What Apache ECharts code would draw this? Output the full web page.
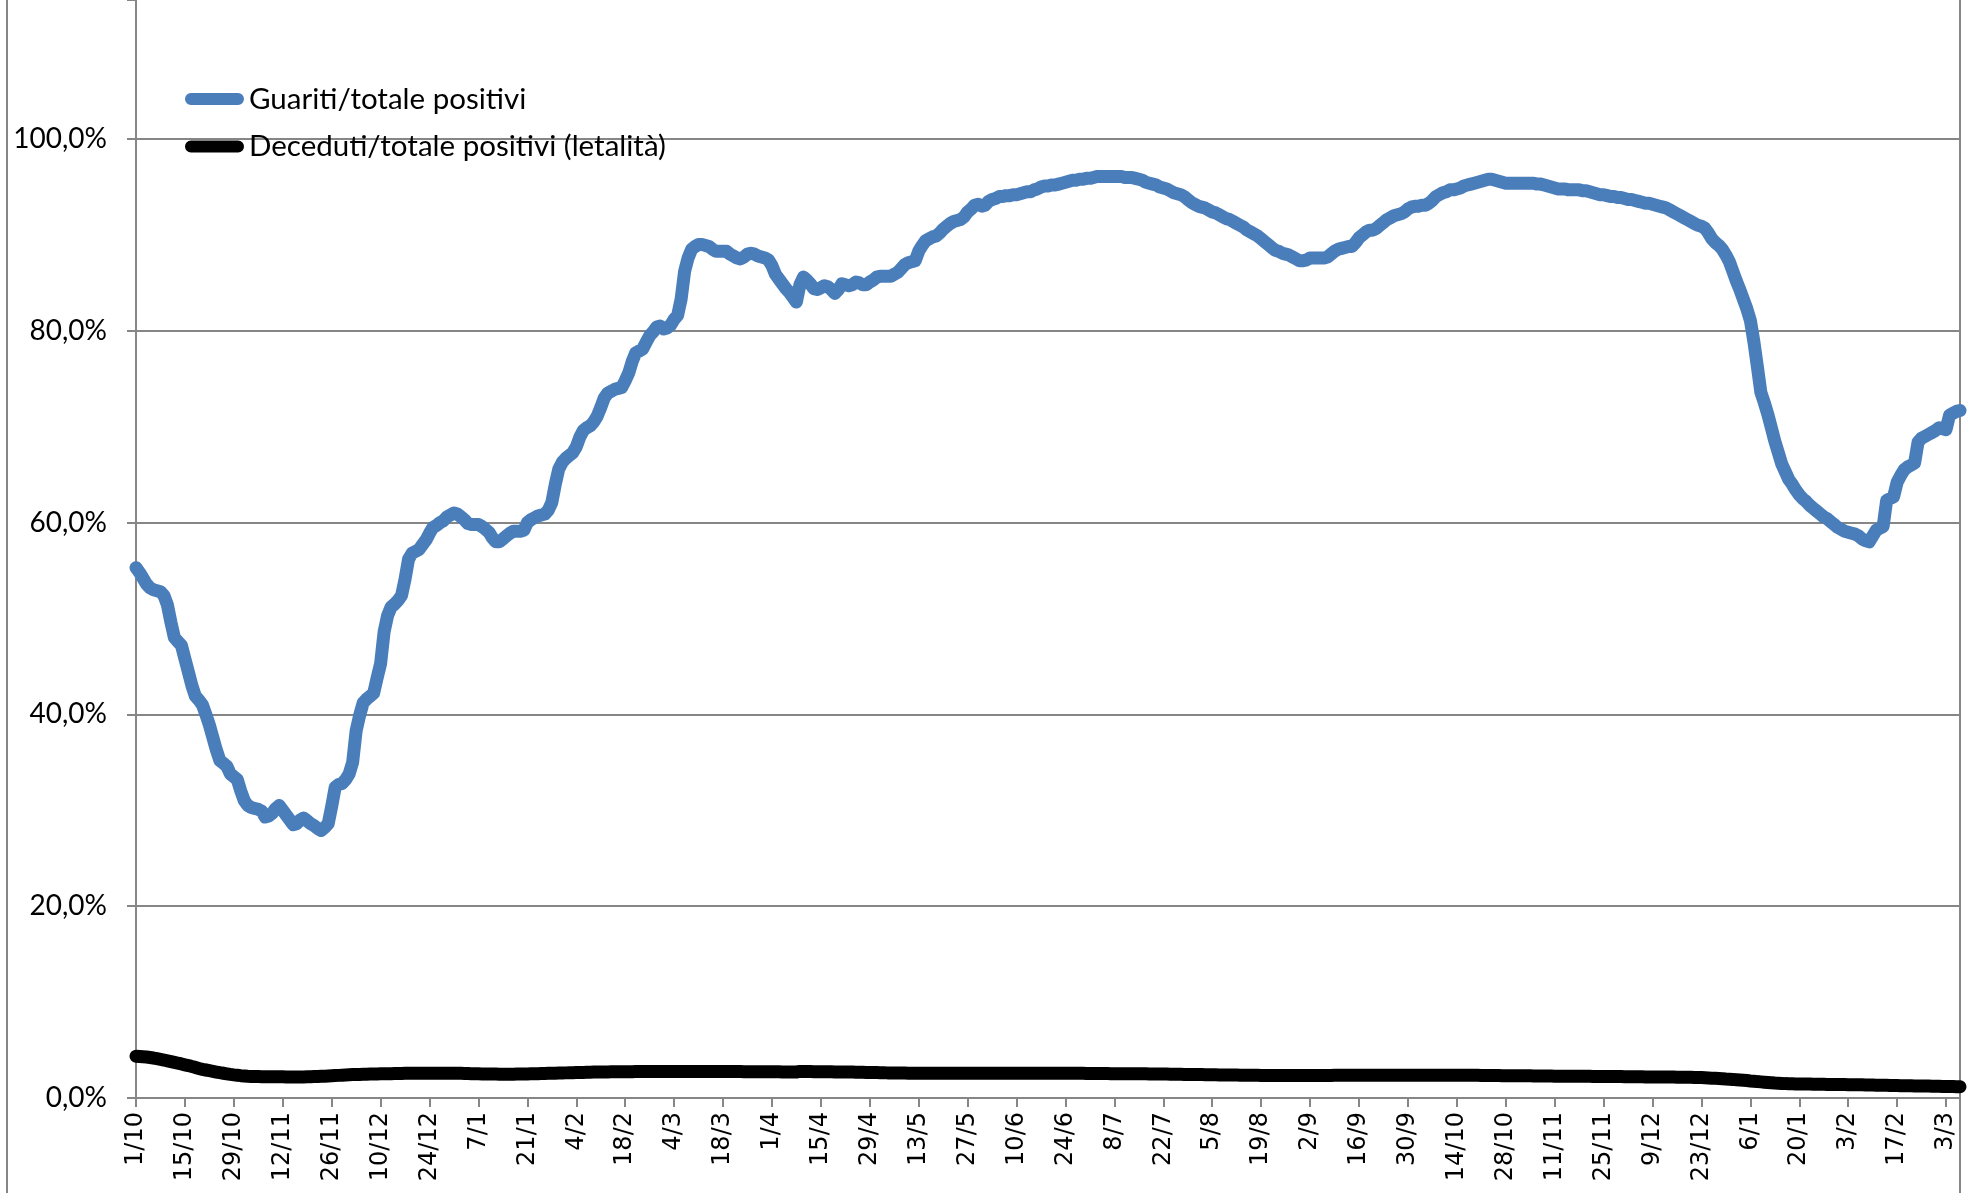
<!DOCTYPE html>
<html>
<head>
<meta charset="utf-8">
<script src="https://cdn.jsdelivr.net/npm/echarts@6/dist/echarts.min.js"></script>
<style>
html,body{margin:0;padding:0;background:#fff;}
#chart{width:1977px;height:1193px;}
</style>
</head>
<body>
<div id="chart"></div>
<script>
// Daily categories 1/10/2020 .. 7/3/2022
const startDate = [2020, 9, 1]; // year, month index, day
const dayCount = 523;
const categories = [];
for (let i = 0; i < dayCount; i++) {
  const d = new Date(Date.UTC(startDate[0], startDate[1], startDate[2] + i));
  categories.push(d.getUTCDate() + '/' + (d.getUTCMonth() + 1));
}

const seriesNames = ['Guariti/totale positivi', 'Deceduti/totale positivi (letalità)'];

// Guariti / totale positivi (%)
const guariti = [
55.3,54.8,54.2,53.6,53.2,53.0,52.9,52.8,52.4,51.4,
49.6,48.0,47.6,47.2,45.8,44.4,43.0,41.9,41.5,41.0,
40.0,38.9,37.6,36.3,35.2,34.9,34.6,33.8,33.5,33.2,
32.0,31.0,30.5,30.3,30.2,30.1,29.9,29.3,29.4,29.7,
30.2,30.5,30.0,29.5,29.0,28.5,28.6,29.0,29.2,28.9,
28.6,28.4,28.1,27.9,28.2,28.6,30.4,32.4,32.7,32.8,
33.2,33.8,35.0,38.3,39.9,41.2,41.6,41.9,42.2,43.8,
45.3,48.6,50.3,51.2,51.5,51.9,52.4,54.1,56.2,56.8,
57.0,57.2,57.7,58.2,58.9,59.5,59.7,60.0,60.2,60.6,
60.8,61.0,60.9,60.6,60.3,59.9,59.8,59.8,59.8,59.6,
59.3,59.0,58.4,58.0,58.0,58.3,58.6,58.9,59.1,59.1,
59.1,59.2,60.0,60.3,60.5,60.7,60.8,60.9,61.3,62.1,
64.0,65.6,66.3,66.7,67.0,67.3,67.9,68.9,69.6,69.9,
70.1,70.5,71.1,72.0,73.0,73.5,73.7,73.9,74.0,74.1,
74.8,75.6,76.8,77.7,77.9,78.1,78.8,79.5,79.9,80.4,
80.5,80.2,80.3,80.6,81.2,81.6,83.3,86.2,87.6,88.5,
88.8,89.0,89.0,88.9,88.8,88.5,88.3,88.3,88.3,88.3,
88.0,87.8,87.6,87.5,87.7,88.0,88.1,88.0,87.8,87.7,
87.6,87.4,86.8,85.9,85.4,84.9,84.4,84.0,83.5,83.0,
84.8,85.6,85.3,84.9,84.4,84.3,84.5,84.7,84.6,84.3,
83.9,84.3,84.9,84.8,84.7,84.8,85.1,85.0,84.8,84.8,
85.1,85.3,85.6,85.7,85.7,85.7,85.7,85.9,86.1,86.5,
86.9,87.1,87.2,87.3,88.3,88.9,89.4,89.6,89.8,89.9,
90.2,90.6,90.9,91.2,91.4,91.5,91.6,91.9,92.4,92.7,
93.1,93.2,93.0,93.1,93.5,93.7,93.8,94.0,94.0,94.1,
94.1,94.2,94.2,94.3,94.4,94.5,94.5,94.7,94.8,95.0,
95.1,95.1,95.2,95.2,95.3,95.4,95.5,95.6,95.7,95.7,
95.8,95.8,95.9,95.9,96.0,96.1,96.1,96.1,96.1,96.1,
96.1,96.1,96.1,96.0,96.0,96.0,95.9,95.8,95.7,95.5,
95.4,95.3,95.2,95.0,94.9,94.8,94.6,94.4,94.3,94.2,
94.0,93.7,93.4,93.2,93.0,92.9,92.8,92.6,92.4,92.3,
92.1,91.9,91.7,91.6,91.4,91.2,91.0,90.8,90.5,90.3,
90.1,89.9,89.6,89.3,89.0,88.7,88.4,88.3,88.1,88.0,
87.9,87.7,87.5,87.3,87.3,87.4,87.6,87.6,87.6,87.6,
87.6,87.7,88.0,88.3,88.5,88.6,88.7,88.8,88.8,89.2,
89.7,90.0,90.3,90.5,90.5,90.7,91.0,91.3,91.6,91.8,
92.0,92.1,92.2,92.4,92.7,92.9,93.0,93.0,93.1,93.1,
93.3,93.6,94.0,94.2,94.4,94.5,94.7,94.7,94.8,94.9,
95.1,95.2,95.3,95.4,95.5,95.6,95.7,95.8,95.8,95.7,
95.6,95.5,95.4,95.4,95.4,95.4,95.4,95.4,95.4,95.4,
95.4,95.3,95.3,95.2,95.1,95.0,94.9,94.8,94.8,94.8,
94.7,94.7,94.7,94.7,94.6,94.6,94.5,94.4,94.3,94.2,
94.2,94.1,94.0,94.0,93.9,93.9,93.8,93.7,93.7,93.6,
93.5,93.4,93.3,93.3,93.2,93.1,93.0,92.9,92.8,92.6,
92.4,92.2,92.0,91.8,91.6,91.4,91.2,91.0,90.9,90.7,
90.2,89.6,89.2,88.9,88.5,87.9,87.2,86.2,85.2,84.3,
83.3,82.3,81.1,78.9,76.3,73.6,72.5,71.3,69.9,68.5,
67.3,66.1,65.3,64.5,64.0,63.4,62.9,62.5,62.2,61.8,
61.5,61.2,60.9,60.6,60.4,60.1,59.8,59.5,59.3,59.1,
59.0,58.9,58.8,58.6,58.3,58.1,58.0,58.6,59.2,59.4,
59.6,62.3,62.5,62.7,64.2,64.9,65.5,65.8,66.0,66.2,
68.4,68.8,69.0,69.2,69.4,69.6,69.9,69.8,69.7,71.2,
71.4,71.6,71.7
];

// Deceduti / totale positivi (%)
const deceduti = [
4.36,4.33,4.30,4.27,4.22,4.17,4.10,4.03,3.96,3.88,
3.80,3.72,3.63,3.55,3.46,3.38,3.28,3.19,3.08,2.99,
2.92,2.85,2.78,2.71,2.64,2.58,2.52,2.46,2.41,2.37,
2.33,2.30,2.27,2.25,2.24,2.23,2.22,2.22,2.21,2.21,
2.21,2.21,2.21,2.20,2.20,2.20,2.20,2.20,2.20,2.21,
2.22,2.23,2.24,2.26,2.28,2.30,2.32,2.34,2.36,2.38,
2.40,2.42,2.44,2.45,2.46,2.47,2.48,2.49,2.50,2.51,
2.52,2.53,2.54,2.54,2.55,2.56,2.56,2.57,2.57,2.58,
2.58,2.58,2.59,2.59,2.59,2.59,2.59,2.59,2.59,2.59,
2.59,2.58,2.58,2.57,2.56,2.55,2.54,2.53,2.52,2.51,
2.50,2.50,2.49,2.49,2.48,2.48,2.48,2.48,2.48,2.49,
2.49,2.50,2.51,2.52,2.53,2.54,2.55,2.56,2.57,2.58,
2.59,2.60,2.61,2.62,2.63,2.64,2.65,2.66,2.67,2.68,
2.69,2.70,2.70,2.71,2.72,2.72,2.73,2.73,2.74,2.74,
2.75,2.75,2.75,2.76,2.76,2.76,2.77,2.77,2.77,2.77,
2.77,2.77,2.77,2.77,2.77,2.77,2.77,2.77,2.77,2.77,
2.77,2.77,2.77,2.77,2.77,2.76,2.76,2.76,2.76,2.76,
2.76,2.76,2.76,2.76,2.75,2.75,2.75,2.75,2.75,2.74,
2.74,2.74,2.73,2.73,2.73,2.72,2.72,2.72,2.71,2.71,
2.77,2.77,2.76,2.76,2.75,2.75,2.74,2.74,2.73,2.73,
2.72,2.72,2.71,2.71,2.70,2.70,2.69,2.68,2.68,2.67,
2.66,2.65,2.65,2.64,2.63,2.62,2.62,2.61,2.60,2.60,
2.60,2.59,2.59,2.59,2.59,2.59,2.59,2.59,2.59,2.59,
2.59,2.59,2.59,2.59,2.59,2.59,2.59,2.59,2.59,2.59,
2.59,2.59,2.59,2.59,2.59,2.59,2.59,2.59,2.59,2.59,
2.59,2.59,2.59,2.59,2.59,2.59,2.59,2.59,2.59,2.59,
2.59,2.59,2.59,2.58,2.58,2.58,2.58,2.58,2.57,2.57,
2.57,2.57,2.56,2.56,2.56,2.56,2.55,2.55,2.55,2.54,
2.54,2.54,2.54,2.53,2.53,2.53,2.53,2.52,2.52,2.52,
2.51,2.51,2.50,2.50,2.49,2.49,2.48,2.48,2.47,2.47,
2.46,2.46,2.45,2.45,2.44,2.44,2.43,2.43,2.42,2.42,
2.41,2.41,2.40,2.40,2.39,2.39,2.38,2.38,2.37,2.37,
2.36,2.36,2.35,2.35,2.35,2.34,2.34,2.34,2.34,2.34,
2.34,2.34,2.34,2.34,2.34,2.34,2.35,2.35,2.35,2.35,
2.35,2.35,2.35,2.36,2.36,2.36,2.36,2.36,2.36,2.37,
2.37,2.37,2.37,2.37,2.37,2.37,2.38,2.38,2.38,2.38,
2.38,2.38,2.38,2.38,2.38,2.38,2.38,2.38,2.38,2.38,
2.38,2.38,2.38,2.38,2.38,2.38,2.38,2.38,2.37,2.37,
2.37,2.37,2.36,2.36,2.36,2.35,2.35,2.35,2.34,2.34,
2.34,2.33,2.33,2.33,2.32,2.32,2.32,2.31,2.31,2.31,
2.30,2.30,2.30,2.29,2.29,2.29,2.28,2.28,2.28,2.28,
2.27,2.27,2.27,2.27,2.26,2.26,2.26,2.25,2.25,2.25,
2.24,2.24,2.24,2.23,2.23,2.23,2.22,2.22,2.22,2.21,
2.21,2.21,2.20,2.20,2.20,2.19,2.19,2.19,2.18,2.18,
2.18,2.17,2.17,2.17,2.16,2.16,2.15,2.14,2.13,2.11,
2.09,2.07,2.05,2.03,2.01,1.98,1.96,1.94,1.91,1.88,
1.85,1.82,1.78,1.75,1.71,1.68,1.65,1.62,1.59,1.56,
1.54,1.52,1.50,1.49,1.48,1.47,1.46,1.46,1.45,1.45,
1.44,1.44,1.43,1.43,1.42,1.42,1.41,1.41,1.40,1.40,
1.39,1.39,1.38,1.38,1.37,1.36,1.35,1.35,1.34,1.33,
1.32,1.32,1.31,1.30,1.30,1.29,1.28,1.28,1.27,1.26,
1.26,1.25,1.24,1.24,1.23,1.22,1.22,1.21,1.20,1.19,
1.19,1.18,1.17
];

// visible y-axis extent (top of plot is cut by the canvas edge) and labelled ticks
const yMin = 0;
const yMax = 114.5;
const yInterval = 20;

const chart = echarts.init(document.getElementById('chart'), null, {renderer: 'canvas'});
const gridColor = '#868686';
const pill = 'path://M6,0 L54,0 A6,6 0 0 1 54,12 L6,12 A6,6 0 0 1 6,0 Z';

chart.setOption({
  animation: false,
  backgroundColor: '#ffffff',
  grid: {left: 136, right: 17, top: 0, bottom: 95, containLabel: false},
  legend: {
    orient: 'vertical',
    left: 180,
    top: 79,
    itemWidth: 59,
    itemHeight: 12,
    itemGap: 17.5,
    icon: pill,
    textStyle: {fontFamily: 'Lato', fontSize: 29.5, color: '#000', padding: [0, 0, 0, 0]},
    data: seriesNames
  },
  xAxis: {
    type: 'category',
    data: categories,
    boundaryGap: false,
    axisLine: {show: true, lineStyle: {color: gridColor, width: 2}},
    axisTick: {show: true, interval: 13, length: 9, lineStyle: {color: gridColor, width: 2}},
    axisLabel: {
      interval: 13,
      rotate: 90,
      margin: 14,
      fontFamily: 'DejaVu Sans',
      fontSize: 24,
      color: '#000'
    },
    splitLine: {show: false}
  },
  yAxis: {
    type: 'value',
    min: yMin,
    max: yMax,
    interval: yInterval,
    axisLine: {show: true, lineStyle: {color: gridColor, width: 2}},
    axisTick: {show: true, length: 9, lineStyle: {color: gridColor, width: 2}},
    axisLabel: {
      margin: 29,
      fontFamily: 'Lato',
      fontSize: 28,
      color: '#000',
      formatter: v => (Math.abs(v % yInterval) < 1e-6 ? v.toFixed(1).replace('.', ',') + '%' : '')
    },
    splitLine: {show: true, showMaxLine: false, lineStyle: {color: gridColor, width: 2}}
  },
  graphic: [
    {type: 'line', shape: {x1: 7, y1: 0, x2: 7, y2: 1193}, style: {stroke: gridColor, lineWidth: 2}},
    {type: 'line', shape: {x1: 1960, y1: 0, x2: 1960, y2: 1193}, style: {stroke: gridColor, lineWidth: 2}}
  ],
  series: [
    {
      name: seriesNames[0],
      type: 'line',
      data: guariti,
      showSymbol: false,
      color: '#4a7ebb',
      lineStyle: {width: 13, color: '#4a7ebb', cap: 'round', join: 'round'}
    },
    {
      name: seriesNames[1],
      type: 'line',
      data: deceduti,
      showSymbol: false,
      color: '#000000',
      lineStyle: {width: 13, color: '#000000', cap: 'round', join: 'round'}
    }
  ]
});
</script>
</body>
</html>
